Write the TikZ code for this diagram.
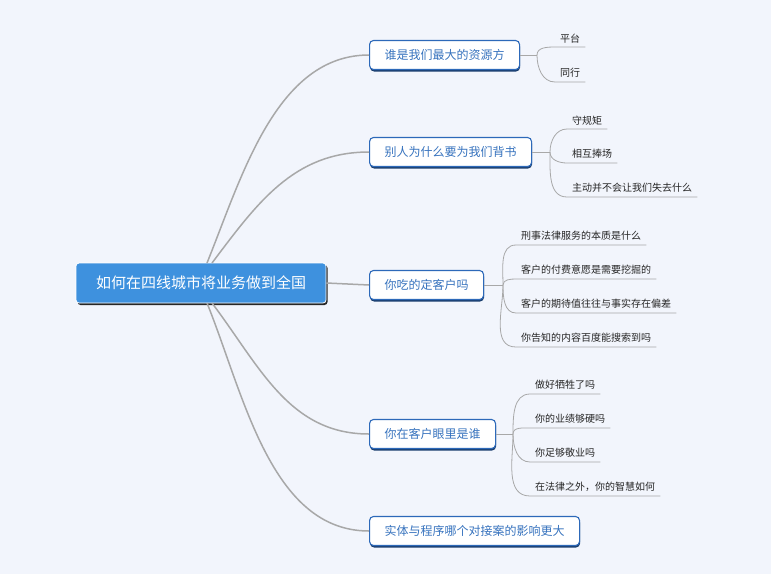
\documentclass[tikz,border=0pt]{standalone}
\usepackage{fontspec}
\setmainfont{Noto Sans CJK SC}
\usetikzlibrary{positioning,shadows,calc}
\definecolor{bgcol}{RGB}{242,245,252}
\definecolor{rootblue}{RGB}{62,145,222}
\definecolor{edgeblue}{RGB}{45,105,185}
\definecolor{textblue}{RGB}{55,115,190}
\definecolor{linegray}{RGB}{168,168,168}
\tikzset{
  root/.style   = {draw=white, line width=0.8pt, rounded corners=3pt, fill=rootblue,
                   text=white, inner xsep=20pt, minimum height=40pt,
                   font=\fontsize{15}{18}\selectfont,
                   drop shadow={shadow xshift=1.5pt, shadow yshift=-2pt, fill=black!85, opacity=1}},
  topic/.style  = {draw=edgeblue, line width=1.1pt, rounded corners=4pt, fill=white,
                   text=textblue, inner xsep=15pt, minimum height=29pt, anchor=west,
                   font=\fontsize{12}{14}\selectfont,
                   drop shadow={shadow xshift=0.5pt, shadow yshift=-2pt, fill=edgeblue!60!black, opacity=1}},
  leaf/.style   = {anchor=south west, inner xsep=5pt, inner ysep=4pt, text=black!85,
                   font=\fontsize{10}{12}\selectfont},
  trunk/.style  = {draw=linegray, line width=1.5pt},
  twig/.style   = {draw=linegray, line width=0.8pt},
}
\begin{document}
\begin{tikzpicture}[x=1pt,y=1pt]
  \fill[bgcol] (0,0) rectangle (771,-574);
  \useasboundingbox (0,0) rectangle (771,-574);

  % central topic and main branches
  \node[root]  (main) at (201,-283) {如何在四线城市将业务做到全国};
  \node[topic] (res)  at (369,-55)  {谁是我们最大的资源方};
  \node[topic] (back) at (369,-152) {别人为什么要为我们背书};
  \node[topic] (cust) at (369,-285) {你吃的定客户吗};
  \node[topic] (eyes) at (369,-434) {你在客户眼里是谁};
  \node[topic] (proc) at (369,-531) {实体与程序哪个对接案的影响更大};

  \coordinate (mtop1) at (207,-263);
  \coordinate (mtop2) at (212,-263);
  \coordinate (mbot1) at (212,-303);
  \coordinate (mbot2) at (207,-303);
  \draw[trunk] (mtop1) to[out=68,in=180,looseness=0.9] (res.west);
  \draw[trunk] (mtop2) to[out=53,in=180] (back.west);
  \draw[trunk] (main.east) -- (cust.west);
  \draw[trunk] (mbot1) to[out=-53,in=180] (eyes.west);
  \draw[trunk] (mbot2) to[out=-68,in=180,looseness=0.9] (proc.west);

  % leaves of res
  \coordinate (f1) at (537,-55);
  \node[leaf] (r1) at (555,-47) {平台};
  \node[leaf] (r2) at (555,-82) {同行};
  \draw[twig] (res.east) -- (f1);
  \draw[twig] (f1) to[out=90,in=180] (r1.south west) -- (r1.south east);
  \draw[twig] (f1) to[out=-90,in=180] (r2.south west) -- (r2.south east);

  % leaves of back
  \coordinate (f2) at (550,-152);
  \node[leaf] (b1) at (567,-129) {守规矩};
  \node[leaf] (b2) at (567,-163) {相互捧场};
  \node[leaf] (b3) at (567,-197) {主动并不会让我们失去什么};
  \draw[twig] (back.east) -- (f2);
  \draw[twig] (f2) to[out=90,in=180] (b1.south west) -- (b1.south east);
  \draw[twig] (f2) to[out=-90,in=180] (b2.south west) -- (b2.south east);
  \draw[twig] (f2) to[out=-90,in=180] (b3.south west) -- (b3.south east);

  % leaves of cust
  \coordinate (f3) at (503,-285);
  \node[leaf] (c1) at (516,-245) {刑事法律服务的本质是什么};
  \node[leaf] (c2) at (516,-279) {客户的付费意愿是需要挖掘的};
  \node[leaf] (c3) at (516,-313) {客户的期待值往往与事实存在偏差};
  \node[leaf] (c4) at (516,-347) {你告知的内容百度能搜索到吗};
  \draw[twig] (cust.east) -- (f3);
  \draw[twig] (f3) to[out=90,in=180] (c1.south west) -- (c1.south east);
  \draw[twig] (f3) to[out=90,in=180] (c2.south west) -- (c2.south east);
  \draw[twig] (f3) to[out=-90,in=180] (c3.south west) -- (c3.south east);
  \draw[twig] (f3) to[out=-90,in=180] (c4.south west) -- (c4.south east);

  % leaves of eyes
  \coordinate (f4) at (513,-434);
  \node[leaf] (e1) at (530,-394) {做好牺牲了吗};
  \node[leaf] (e2) at (530,-428) {你的业绩够硬吗};
  \node[leaf] (e3) at (530,-462) {你足够敬业吗};
  \node[leaf] (e4) at (530,-496) {在法律之外，你的智慧如何};
  \draw[twig] (eyes.east) -- (f4);
  \draw[twig] (f4) to[out=90,in=180] (e1.south west) -- (e1.south east);
  \draw[twig] (f4) to[out=90,in=180] (e2.south west) -- (e2.south east);
  \draw[twig] (f4) to[out=-90,in=180] (e3.south west) -- (e3.south east);
  \draw[twig] (f4) to[out=-90,in=180] (e4.south west) -- (e4.south east);
\end{tikzpicture}
\end{document}
